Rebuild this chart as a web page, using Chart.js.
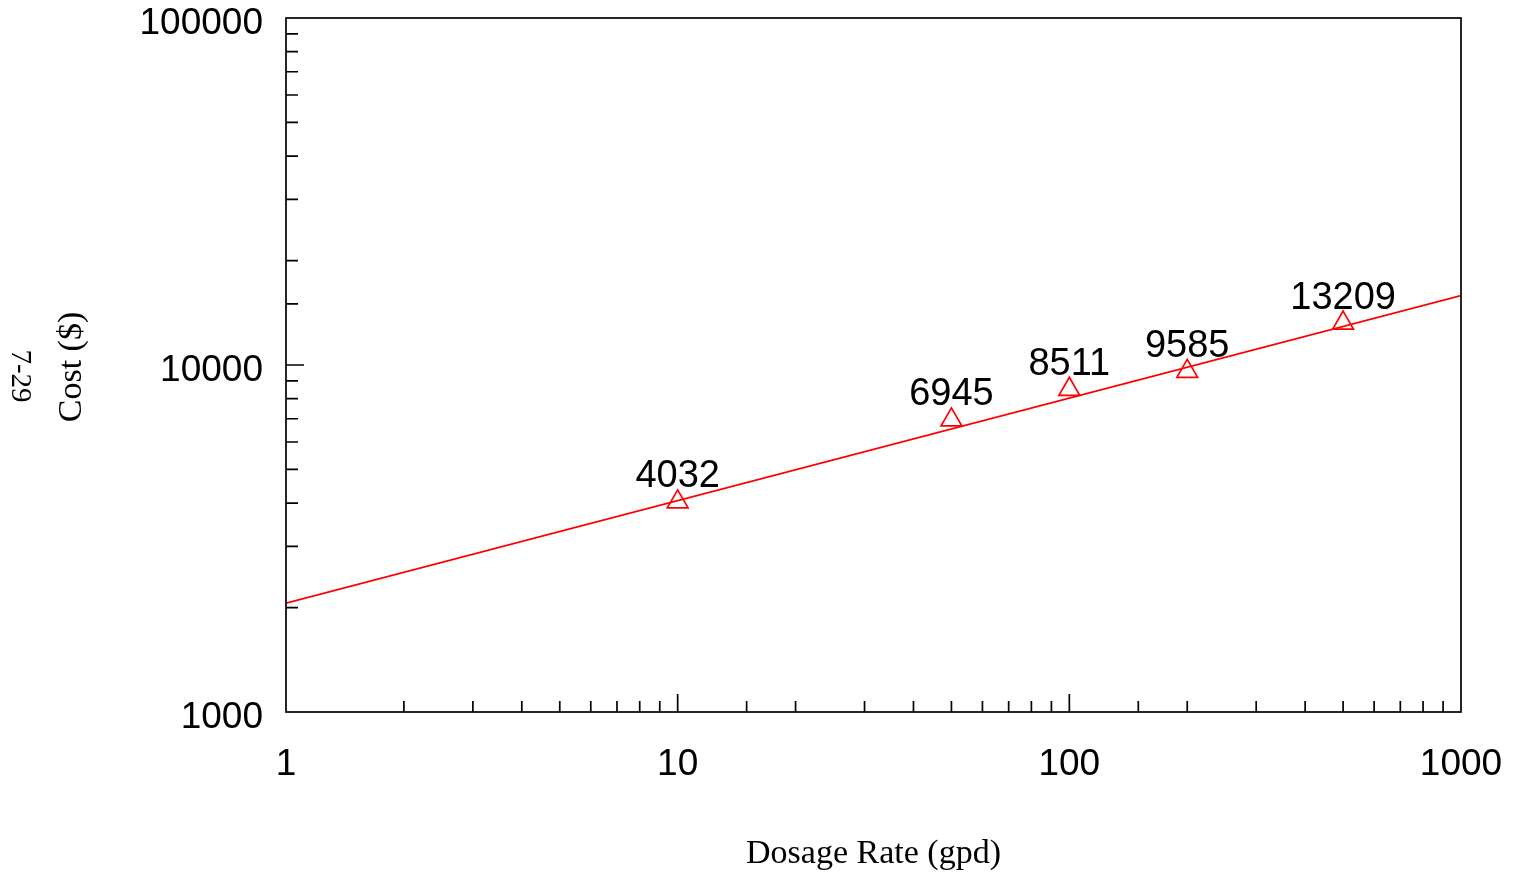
<!DOCTYPE html>
<html>
<head>
<meta charset="utf-8">
<script src="https://cdn.jsdelivr.net/npm/chart.js@4/dist/chart.umd.min.js"></script>
<style>
  html, body { margin: 0; padding: 0; background: #fff; }
  #wrap { width: 1514px; height: 878px; position: relative; }
</style>
</head>
<body>
<div id="wrap"><canvas id="myChart"></canvas></div>
<script>
// data
const dosage = [10, 50, 100, 200, 500];
const cost = [4032, 6945, 8511, 9585, 13209];
const fitX = [1, 1000];
const fitY = [2060, 15840];
const xLabels = [1, 10, 100, 1000];
const yLabels = [1000, 10000, 100000];

const RED = '#ff0000';

const points = dosage.map((d, i) => ({ x: d, y: cost[i] }));
const fitLine = fitX.map((d, i) => ({ x: d, y: fitY[i] }));

function isMajor(v) {
  const l = Math.log10(v);
  return Math.abs(l - Math.round(l)) < 1e-9;
}

// frame, inward ticks, point labels and titles
const extras = {
  id: 'extras',
  afterDraw(chart) {
    const ctx = chart.ctx;
    const a = chart.chartArea;
    const xs = chart.scales.x;
    const ys = chart.scales.y;
    ctx.save();
    ctx.strokeStyle = '#000';
    ctx.lineWidth = 1.7;
    ctx.strokeRect(a.left, a.top, a.right - a.left, a.bottom - a.top);

    ctx.beginPath();
    xs.ticks.forEach(t => {
      if (t.value <= xs.min || t.value >= xs.max) return;
      const px = xs.getPixelForValue(t.value);
      const len = isMajor(t.value) ? 18 : 11;
      ctx.moveTo(px, a.bottom);
      ctx.lineTo(px, a.bottom - len);
    });
    ys.ticks.forEach(t => {
      if (t.value <= ys.min || t.value >= ys.max) return;
      const py = ys.getPixelForValue(t.value);
      const len = isMajor(t.value) ? 18 : 12;
      ctx.moveTo(a.left, py);
      ctx.lineTo(a.left + len, py);
    });
    ctx.stroke();

    // value labels above the markers
    ctx.fillStyle = '#000';
    ctx.font = '38px "Liberation Sans", Arial, sans-serif';
    ctx.textAlign = 'center';
    ctx.textBaseline = 'middle';
    dosage.forEach((d, i) => {
      const px = xs.getPixelForValue(d);
      const py = ys.getPixelForValue(cost[i]);
      ctx.fillText(String(cost[i]), px, py - 25);
    });

    // axis titles
    ctx.font = '34px "Liberation Serif", "Times New Roman", serif';
    ctx.textBaseline = 'alphabetic';
    ctx.fillText('Dosage Rate (gpd)', (a.left + a.right) / 2, 863);

    ctx.save();
    ctx.translate(81, 367);
    ctx.rotate(-Math.PI / 2);
    ctx.fillText('Cost ($)', 0, 0);
    ctx.restore();

    ctx.save();
    ctx.font = '29px "Liberation Serif", "Times New Roman", serif';
    ctx.translate(12, 376);
    ctx.rotate(Math.PI / 2);
    ctx.fillText('7-29', 0, 0);
    ctx.restore();

    ctx.restore();
  }
};

const ctx = document.getElementById('myChart').getContext('2d');
const myChart = new Chart(ctx, {
  type: 'scatter',
  data: {
    datasets: [{
      label: 'fit',
      data: fitLine,
      showLine: true,
      borderColor: RED,
      borderWidth: 1.7,
      pointRadius: 0,
      fill: false
    }, {
      label: 'cost',
      data: points,
      showLine: false,
      pointStyle: 'triangle',
      pointRadius: 12,
      pointBorderColor: RED,
      pointBackgroundColor: 'rgba(0,0,0,0)',
      pointBorderWidth: 1.7
    }]
  },
  options: {
    responsive: true,
    maintainAspectRatio: false,
    animation: false,
    layout: { padding: { left: 0, top: 18, right: 53, bottom: 0 } },
    plugins: {
      legend: { display: false },
      tooltip: { enabled: false }
    },
    scales: {
      x: {
        type: 'logarithmic',
        min: 1,
        max: 1000,
        grid: { display: false, drawTicks: false, tickLength: 0 },
        border: { display: false },
        ticks: {
          autoSkip: false,
          maxRotation: 0,
          padding: 31,
          color: '#000',
          font: { family: '"Liberation Sans", Arial, sans-serif', size: 37 },
          callback: v => xLabels.includes(v) ? String(v) : ''
        },
        afterFit(s) {
          s.height = 878 - 712;
          s.paddingLeft = 0;
          s.paddingRight = 0;
        }
      },
      y: {
        type: 'logarithmic',
        min: 1000,
        max: 100000,
        grid: { display: false, drawTicks: false, tickLength: 0 },
        border: { display: false },
        ticks: {
          autoSkip: false,
          padding: 23,
          labelOffset: 6,
          color: '#000',
          font: { family: '"Liberation Sans", Arial, sans-serif', size: 37 },
          callback: v => yLabels.includes(v) ? String(v) : ''
        },
        afterFit(s) {
          s.width = 286;
          s.paddingTop = 0;
          s.paddingBottom = 0;
        }
      }
    }
  },
  plugins: [extras]
});
</script>
</body>
</html>
